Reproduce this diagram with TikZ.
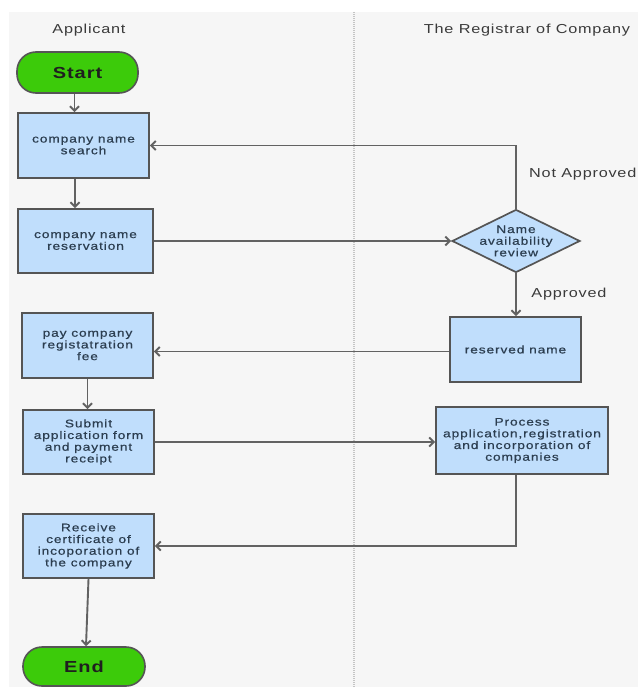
\documentclass[tikz,border=0pt]{standalone}
\usepackage{fontspec}
\setmainfont{Liberation Sans}
\newfontfamily\bxfont{Liberation Sans}[FakeStretch=1.25, LetterSpace=8, FakeBold=0.6]
\newfontfamily\hdfont{Liberation Sans}[FakeStretch=1.25, LetterSpace=6]
\usetikzlibrary{arrows.meta,shapes.geometric}
\definecolor{bgc}{HTML}{F6F6F6}
\definecolor{boxfill}{HTML}{C0DEFC}
\definecolor{edgec}{HTML}{555555}
\definecolor{arrc}{HTML}{626262}
\definecolor{txtc}{HTML}{2C3E50}
\definecolor{grn}{HTML}{3CCB0A}
\definecolor{hdrc}{HTML}{3A3A3A}
\definecolor{divc}{HTML}{C4C4C4}
\begin{document}
\begin{tikzpicture}[x=1pt,y=-1pt,
  box/.style={draw=edgec, line width=1.9pt, fill=boxfill, text=txtc, align=center, inner sep=0pt,
    font=\bxfont\fontsize{11}{11.7}\selectfont},
  dtext/.style={text=txtc, align=center, inner sep=0pt, font=\bxfont\fontsize{11}{11.7}\selectfont},
  term/.style={draw=edgec, line width=1.6pt, fill=grn, rounded corners=19pt, text=black!88,
    inner sep=0pt, font=\hdfont\fontsize{16}{17}\selectfont\bfseries},
  arr/.style={draw=arrc, line width=1.9pt, -{Straight Barb[length=4.5pt,width=9pt]}},
  hdr/.style={text=hdrc, inner sep=0pt, font=\hdfont\fontsize{13}{15}\selectfont},
  divider/.style={draw=divc, line width=1.3pt, dash pattern=on 1pt off 1pt}
]
\useasboundingbox (0,0) rectangle (638,687);
\fill[white] (0,0) rectangle (638,687);
\fill[bgc] (9,12) rectangle (638,687);
\draw[divider] (354,12) -- (354,687);

% headers
\node[hdr] (hA) at (89,30) {Applicant};
\node[hdr] (hR) at (527,30) {The Registrar of Company};

% applicant lane
\node[term, minimum width=121pt, minimum height=41pt] (start) at (77.5,72.5) {Start};
\node[box, minimum width=131pt, minimum height=65pt] (search) at (83.5,145.5) {company name\\search};
\node[box, minimum width=135pt, minimum height=64pt] (reservation) at (85.5,241) {company name\\reservation};
\node[box, minimum width=131pt, minimum height=65pt] (pay) at (87.5,345.5) {pay company\\registatration\\fee};
\node[box, minimum width=131pt, minimum height=64pt] (submit) at (88.5,442) {Submit\\application form\\and payment\\receipt};
\node[box, minimum width=131pt, minimum height=64pt] (receive) at (88.5,546) {Receive\\certificate of\\incoporation of\\the company};
\node[term, minimum width=122pt, minimum height=39pt] (end) at (84,666.5) {End};

% registrar lane
\node[diamond, draw=edgec, line width=1.7pt, fill=boxfill, minimum width=128pt, minimum height=63pt, inner sep=0pt] (dia) at (516,241) {};
\node[dtext] (diatext) at (dia.center) {Name\\availability\\review};
\node[box, minimum width=131pt, minimum height=65pt] (reserved) at (515.5,349.5) {reserved name};
\node[box, minimum width=172pt, minimum height=67pt] (process) at (522,440.5) {Process\\application,registration\\and incorporation of\\companies};

% labels
\node[hdr, anchor=west] (notapp) at (529,174) {Not Approved};
\node[hdr] (app) at (569,294) {Approved};

% connectors
\draw[arr] ([xshift=-3pt]start.south) -- ([xshift=-3pt]start.south |- search.north);
\draw[arr] ([xshift=-8.5pt]search.south) -- ([xshift=-8.5pt]search.south |- reservation.north);
\draw[arr] (reservation.east) -- (dia.west);
\draw[arr] (dia.north) |- (search.east);
\draw[arr] (dia.south) -- (dia.south |- reserved.north);
\draw[arr] ([yshift=-2pt]reserved.west) -- ([yshift=-2pt]reserved.west -| pay.east);
\draw[arr] (pay.south) -- (pay.south |- submit.north);
\draw[arr] (submit.east) -- (submit.east -| process.west);
\draw[arr] ([xshift=-6pt]process.south) |- (receive.east);
\draw[arr] (receive.south) -- ([xshift=2pt]end.north);
\end{tikzpicture}
\end{document}
